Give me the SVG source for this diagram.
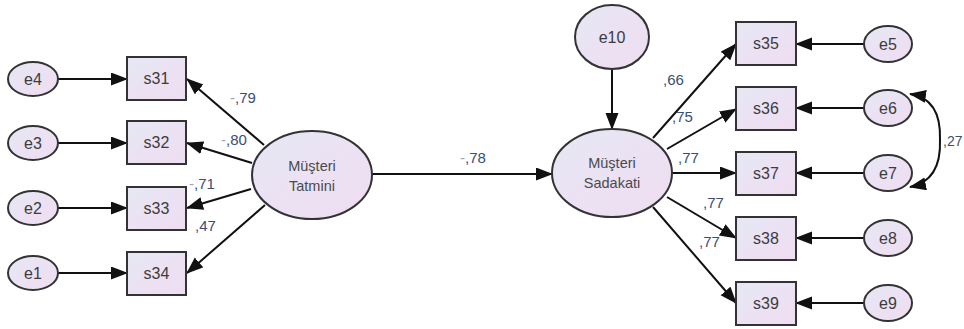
<svg xmlns="http://www.w3.org/2000/svg" width="964" height="329" viewBox="0 0 964 329">
<defs>
<linearGradient id="g" x1="0" y1="0" x2="1" y2="1">
<stop offset="0" stop-color="#e6e8f4"/>
<stop offset="1" stop-color="#f0dcf2"/>
</linearGradient>
<marker id="ah" markerUnits="userSpaceOnUse" markerWidth="17" markerHeight="14" refX="16" refY="6.5" orient="auto">
<path d="M0,0 L17,6.5 L0,13 Z" fill="#111"/>
</marker>
<style>
.nd{fill:url(#g);stroke:#333;stroke-width:2}
.t{font-family:"Liberation Sans",Arial,sans-serif;font-size:16px;fill:#3c3c3c;text-anchor:middle;dominant-baseline:central}
.lt{font-family:"Liberation Sans",Arial,sans-serif;font-size:14.5px;fill:#4a4a4a;text-anchor:middle}
.c{stroke:#111;stroke-width:2;fill:none;marker-end:url(#ah)}
.lb{font-family:"Liberation Sans",Arial,sans-serif;font-size:15px;fill:#3a4e72}
.fd{fill:#9aa6bd}
</style>
</defs>
<g id="connectors">
<line class="c" x1="58" y1="79" x2="127" y2="79"/>
<line class="c" x1="58" y1="143" x2="127" y2="143"/>
<line class="c" x1="58" y1="208" x2="127" y2="208"/>
<line class="c" x1="58" y1="273" x2="127" y2="273"/>
<line class="c" x1="264" y1="145" x2="187" y2="79"/>
<line class="c" x1="252" y1="163" x2="187" y2="143"/>
<line class="c" x1="251" y1="189" x2="187" y2="208"/>
<line class="c" x1="265" y1="205" x2="187" y2="273"/>
<line class="c" x1="372" y1="174" x2="552" y2="174"/>
<line class="c" x1="612" y1="70" x2="612" y2="129"/>
<line class="c" x1="653" y1="138" x2="736" y2="44"/>
<line class="c" x1="667" y1="149" x2="736" y2="109"/>
<line class="c" x1="672" y1="173" x2="736" y2="173"/>
<line class="c" x1="667" y1="197" x2="736" y2="238"/>
<line class="c" x1="653" y1="207" x2="736" y2="303"/>
<line class="c" x1="864" y1="44" x2="796" y2="44"/>
<line class="c" x1="864" y1="108" x2="796" y2="108"/>
<line class="c" x1="864" y1="173" x2="796" y2="173"/>
<line class="c" x1="864" y1="238" x2="796" y2="238"/>
<line class="c" x1="864" y1="303" x2="796" y2="303"/>
<path d="M940,140 C941,112 930,97 910,94" stroke="#111" stroke-width="2" fill="none" marker-end="url(#ah)"/>
<path d="M940,140 C941,168 930,183 910,187" stroke="#111" stroke-width="2" fill="none" marker-end="url(#ah)"/>
<text class="lb" x="230" y="103"><tspan class="fd">-</tspan>,79</text>
<text class="lb" x="221" y="145"><tspan class="fd">-</tspan>,80</text>
<text class="lb" x="189" y="189"><tspan class="fd">-</tspan>,71</text>
<text class="lb" x="195" y="231">,47</text>
<text class="lb" x="460" y="163"><tspan class="fd">-</tspan>,78</text>
<text class="lb" x="663" y="85">,66</text>
<text class="lb" x="672" y="122">,75</text>
<text class="lb" x="678" y="163">,77</text>
<text class="lb" x="703" y="208">,77</text>
<text class="lb" x="699" y="247">,77</text>
<text class="lb" x="943" y="146" style="font-size:14px">,27</text>
</g>
<g id="e4"><ellipse class="nd" cx="33" cy="79" rx="25" ry="17"/><text class="t" x="33" y="79">e4</text></g>
<g id="e3"><ellipse class="nd" cx="33" cy="143" rx="25" ry="17"/><text class="t" x="33" y="143">e3</text></g>
<g id="e2"><ellipse class="nd" cx="33" cy="208" rx="25" ry="17"/><text class="t" x="33" y="208">e2</text></g>
<g id="e1"><ellipse class="nd" cx="33" cy="273" rx="25" ry="17"/><text class="t" x="33" y="273">e1</text></g>
<g id="s31"><rect class="nd" x="127" y="57" width="59" height="43"/><text class="t" x="156.5" y="78.5">s31</text></g>
<g id="s32"><rect class="nd" x="127" y="121" width="59" height="43"/><text class="t" x="156.5" y="142.5">s32</text></g>
<g id="s33"><rect class="nd" x="127" y="187" width="59" height="43"/><text class="t" x="156.5" y="208.5">s33</text></g>
<g id="s34"><rect class="nd" x="127" y="252" width="59" height="43"/><text class="t" x="156.5" y="273.5">s34</text></g>
<g id="tatmini"><ellipse class="nd" cx="312" cy="175" rx="60" ry="44"/><text class="lt" x="312" y="171">Müşteri</text><text class="lt" x="312" y="191">Tatmini</text></g>
<g id="e10"><ellipse class="nd" cx="612" cy="37" rx="37" ry="32"/><text class="t" x="612" y="37">e10</text></g>
<g id="sadakati"><ellipse class="nd" cx="612" cy="173" rx="60" ry="44"/><text class="lt" x="612" y="168">Müşteri</text><text class="lt" x="612" y="188">Sadakati</text></g>
<g id="s35"><rect class="nd" x="736" y="22" width="60" height="43"/><text class="t" x="766" y="43.5">s35</text></g>
<g id="s36"><rect class="nd" x="736" y="87" width="60" height="43"/><text class="t" x="766" y="108.5">s36</text></g>
<g id="s37"><rect class="nd" x="736" y="152" width="60" height="43"/><text class="t" x="766" y="173.5">s37</text></g>
<g id="s38"><rect class="nd" x="736" y="217" width="60" height="43"/><text class="t" x="766" y="238.5">s38</text></g>
<g id="s39"><rect class="nd" x="736" y="282" width="60" height="43"/><text class="t" x="766" y="303.5">s39</text></g>
<g id="e5"><ellipse class="nd" cx="888" cy="44" rx="24" ry="18"/><text class="t" x="888" y="44">e5</text></g>
<g id="e6"><ellipse class="nd" cx="888" cy="108" rx="24" ry="18"/><text class="t" x="888" y="108">e6</text></g>
<g id="e7"><ellipse class="nd" cx="888" cy="173" rx="24" ry="18"/><text class="t" x="888" y="173">e7</text></g>
<g id="e8"><ellipse class="nd" cx="888" cy="238" rx="24" ry="18"/><text class="t" x="888" y="238">e8</text></g>
<g id="e9"><ellipse class="nd" cx="888" cy="303" rx="24" ry="18"/><text class="t" x="888" y="303">e9</text></g>
</svg>
